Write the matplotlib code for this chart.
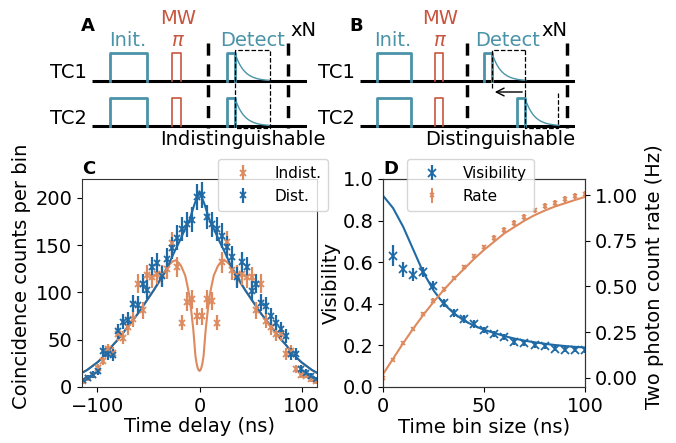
import numpy as np
import matplotlib.pyplot as plt

BLUE = '#1f6aa5'
ORANGE = '#dd8a5e'
TEAL = '#4a93a8'
RED = '#c8553f'

# ---- panel C: coincidence histogram (bins ~4.85 ns, centred on +-2.4 ns)
bin_step = 4.85
delay = (np.arange(-24, 24) + 0.5) * bin_step

dist_counts = [7, 10, 13, 17, 38, 35, 34, 59, 69, 71, 88, 87, 109, 103, 127, 131, 117, 135, 147, 158, 167, 172, 177, 201,
               203, 180, 172, 167, 160, 148, 137, 116, 132, 127, 102, 109, 89, 86, 75, 68, 61, 54, 35, 35, 19, 15, 12, 8]
dist_err = [3, 3, 4, 4, 6, 6, 6, 8, 8, 8, 9, 9, 10, 10, 11, 11, 11, 12, 12, 13, 13, 13, 13, 14,
            14, 13, 13, 13, 13, 12, 12, 11, 11, 11, 10, 10, 9, 9, 9, 8, 8, 7, 6, 6, 4, 4, 3, 3]

indist_counts = [6, 9, 13, 20, 28, 40, 36, 56, 52, 63, 72, 109, 81, 118, 116, 120, 118, 125, 152, 127, 68, 90, 93, 75,
                 75, 93, 91, 68, 132, 153, 124, 118, 119, 116, 116, 81, 109, 70, 63, 56, 56, 35, 38, 19, 13, 12, 8, 6]
indist_err = [3, 3, 4, 4, 5, 6, 6, 7, 7, 8, 9, 10, 9, 11, 11, 11, 11, 11, 12, 11, 8, 10, 10, 9,
              9, 10, 10, 8, 11, 12, 11, 11, 11, 11, 11, 9, 10, 8, 8, 7, 7, 6, 6, 4, 4, 3, 3, 3]

fit_delay = [-115, -110, -105, -100, -95, -90, -85, -80, -75, -70, -65, -60, -55, -50, -45, -40, -35, -30, -25,
             -20, -15, -10, -5, 0, 5, 10, 15, 20, 25, 30, 35, 40, 45, 50, 55, 60, 65, 70, 75, 80, 85, 90, 95, 100,
             105, 110, 115]
dist_fit = [15, 18, 22, 26, 31, 37, 44, 50, 57, 64, 71, 78, 86, 94, 102, 111, 120, 130, 142,
            153, 165, 176, 193, 207, 193, 176, 165, 153, 142, 130, 120, 111, 102, 94, 86, 78, 71, 64, 57, 50, 44, 37,
            31, 26, 22, 18, 15]

indist_fit_delay = [-115, -110, -105, -100, -95, -90, -85, -80, -75, -70, -65, -60, -55, -50, -45, -40, -35, -32,
                    -29, -26, -23, -20, -18, -16, -14, -12, -10, -8, -6, -4, -3, -2, -1, 0, 1, 2, 3, 4, 6, 8, 10,
                    12, 14, 16, 18, 20, 23, 26, 29, 32, 35, 40, 45, 50, 55, 60, 65, 70, 75, 80, 85, 90, 95, 100, 105,
                    110, 115]
indist_fit = [15, 18, 22, 26, 31, 37, 44, 50, 57, 64, 71, 78, 86, 94, 102, 110, 119, 125,
              130, 133, 134, 131, 128, 123, 118, 108, 97, 80, 60, 33, 26, 21, 18, 17, 18, 21, 26, 33, 60, 80, 97,
              108, 118, 123, 128, 131, 134, 133, 130, 125, 119, 110, 102, 94, 86, 78, 71, 64, 57, 50, 44, 37, 31, 26,
              22, 18, 15]

# ---- panel D: visibility and two-photon rate vs time bin size
vis_bin = [5, 10, 15, 20, 25, 30, 35, 40, 45, 50, 55, 60, 65, 70, 75, 80, 85, 90, 95, 100]
visibility = [0.632, 0.565, 0.54, 0.552, 0.487, 0.403, 0.355, 0.326, 0.303, 0.274, 0.255, 0.242, 0.218, 0.21,
              0.2, 0.198, 0.185, 0.18, 0.18, 0.177]
vis_err = [0.05, 0.035, 0.03, 0.025, 0.022, 0.02, 0.02, 0.018, 0.017, 0.016, 0.015, 0.015, 0.015, 0.014,
           0.014, 0.013, 0.013, 0.013, 0.012, 0.012]

rate_bin = [0, 5, 10, 15, 20, 25, 30, 35, 40, 45, 50, 55, 60, 65, 70, 75, 80, 85, 90, 95, 100]
rate = [0.0, 0.10, 0.192, 0.267, 0.348, 0.423, 0.485, 0.546, 0.604, 0.665, 0.714, 0.766, 0.808, 0.848, 0.879,
        0.916, 0.94, 0.958, 0.976, 0.995, 1.004]
rate_err = [0.005, 0.008, 0.01, 0.01, 0.012, 0.012, 0.013, 0.013, 0.014, 0.014, 0.015, 0.015, 0.015, 0.016,
            0.016, 0.016, 0.017, 0.017, 0.017, 0.018, 0.018]

fit_bin = [0, 5, 10, 15, 20, 25, 30, 35, 40, 45, 50, 55, 60, 65, 70, 75, 80, 85, 90, 95, 100]
vis_fit = [0.92, 0.86, 0.77, 0.66, 0.55, 0.465, 0.40, 0.355, 0.32, 0.295, 0.275, 0.26, 0.245, 0.233, 0.223,
           0.215, 0.208, 0.202, 0.197, 0.193, 0.19]
rate_fit = [0.02, 0.105, 0.19, 0.27, 0.345, 0.415, 0.48, 0.54, 0.595, 0.65, 0.70, 0.745, 0.79, 0.825, 0.86,
            0.89, 0.915, 0.937, 0.955, 0.973, 0.99]

# ---- pulse schematics (panel pixel units: x from line start, y downwards)
rows = [81, 126]
pulse_h = 28
line_len = 215
sched_a = {'init': (18, 55), 'mw': (80, 89), 'sep': (116, 196), 'det': [(135, 143), (135, 143)]}
sched_b = {'init': (17, 51), 'mw': (75, 83), 'sep': (107, 207), 'det': [(124, 132), (157, 165)]}
decay_len = 34

plt.rcParams['font.family'] = 'DejaVu Sans'
plt.rcParams['font.size'] = 14
plt.rcParams['axes.edgecolor'] = '#333333'

fig = plt.figure(figsize=(6.76, 4.43), dpi=100)
W, H = 676, 443


def draw_sequence(ax, sched):
    for base in rows:
        top = base - pulse_h
        ax.plot([0, line_len], [base, base], color='black', lw=2.2, solid_capstyle='butt')
        x0, x1 = sched['init']
        ax.plot([x0, x0, x1, x1], [base, top, top, base], color=TEAL, lw=2)
        m0, m1 = sched['mw']
        ax.plot([m0, m0, m1, m1], [base, top, top, base], color=RED, lw=1.2)
    for s in sched['sep']:
        ax.plot([s, s], [43, 128], color='black', lw=2.5, ls=(0, (3.5, 2.5)))
    for base, (d0, d1) in zip(rows, sched['det']):
        top = base - pulse_h
        ax.plot([d0, d0, d1, d1], [base, top, top, base], color=TEAL, lw=2)
        xd = np.linspace(d1, d1 + decay_len, 60)
        ax.plot(xd, base - pulse_h * np.exp(-(xd - d1) / 9.0), color=TEAL, lw=1)
    ax.set_xlim(0, line_len)
    ax.set_ylim(150, 0)
    ax.axis('off')


def add_texts(ax, label, init_x, mw_x, det_x, xn_x, xn_ha, bottom_text, bottom_x):
    ax.text(-4, 26, label, fontsize=13, fontweight='bold', ha='center', va='center')
    ax.text(-5, 73, 'TC1', fontsize=14, ha='right', va='center')
    ax.text(-5, 118, 'TC2', fontsize=14, ha='right', va='center')
    ax.text(init_x, 40, 'Init.', color=TEAL, fontsize=14, ha='center', va='center')
    ax.text(mw_x, 19, 'MW', color=RED, fontsize=14, ha='center', va='center')
    ax.text(mw_x, 40, r'$\pi$', color=RED, fontsize=14, ha='center', va='center')
    ax.text(det_x, 40, 'Detect', color=TEAL, fontsize=14, ha='center', va='center')
    ax.text(xn_x, 30, 'xN', fontsize=14, ha=xn_ha, va='center')
    ax.text(bottom_x, 139, bottom_text, fontsize=14, ha='center', va='center')


ax_a = fig.add_axes([92 / W, 1 - 150 / H, 215 / W, 150 / H])
draw_sequence(ax_a, sched_a)
ax_a.plot([143, 143, 178, 178, 143], [50, 128, 128, 50, 50], color='black', lw=0.9, ls='--')
add_texts(ax_a, 'A', 36, 86, 161, 198, 'left', 'Indistinguishable', 151)

ax_b = fig.add_axes([360 / W, 1 - 150 / H, 215 / W, 150 / H])
draw_sequence(ax_b, sched_b)
ax_b.plot([132, 132, 165], [88, 50, 50], color='black', lw=0.9, ls='--')
ax_b.plot([165, 165], [50, 92], color='black', lw=0.9, ls='--')
ax_b.plot([165, 165, 198, 198], [92, 128, 128, 92], color='black', lw=0.9, ls='--')
ax_b.annotate('', xy=(132, 92), xytext=(165, 92),
              arrowprops=dict(arrowstyle='->', color='black', lw=1))
add_texts(ax_b, 'B', 33, 80, 148, 207, 'right', 'Distinguishable', 140)

leg_kw = dict(fontsize=11, handlelength=2.4, borderpad=0.45)

# ---- panel C
ax_c = fig.add_axes([82 / W, 1 - 387 / H, 235 / W, 208 / H])
ax_c.plot(indist_fit_delay, indist_fit, color=ORANGE, lw=1.5)
ax_c.plot(fit_delay, dist_fit, color=BLUE, lw=1.5)
ax_c.errorbar(delay, indist_counts, yerr=indist_err, fmt='x', color=ORANGE, ms=5, mew=1.3, elinewidth=1.6,
              label='Indist.')
ax_c.errorbar(delay, dist_counts, yerr=dist_err, fmt='x', color=BLUE, ms=5, mew=1.3, elinewidth=1.6,
              label='Dist.')
ax_c.set_xlim(-115, 115)
ax_c.set_ylim(0, 220)
ax_c.set_xticks([-100, 0, 100])
ax_c.set_yticks([0, 50, 100, 150, 200])
ax_c.set_xlabel('Time delay (ns)', labelpad=1)
ax_c.set_ylabel('Coincidence counts per bin')
ax_c.yaxis.set_label_coords(-0.215, 0.53)
ax_c.legend(loc='upper right', bbox_to_anchor=(1.079, 1.132), **leg_kw)
ax_c.text(0.0, 1.005, 'C', transform=ax_c.transAxes, fontsize=13, fontweight='bold', va='bottom')

# ---- panel D
ax_d = fig.add_axes([383 / W, 1 - 387 / H, 202 / W, 208 / H])
ax_r = ax_d.twinx()
ax_d.plot(fit_bin, vis_fit, color=BLUE, lw=1.5)
h_vis = ax_d.errorbar(vis_bin, visibility, yerr=vis_err, fmt='x', color=BLUE, ms=6, mew=1.3, elinewidth=1.6)
ax_r.plot(fit_bin, rate_fit, color=ORANGE, lw=1.5)
h_rate = ax_r.errorbar(rate_bin, rate, yerr=rate_err, fmt='x', color=ORANGE, ms=3.5, mew=1.2, elinewidth=1.4)
ax_d.set_xlim(0, 100)
ax_d.set_ylim(0, 1)
ax_r.set_ylim(-0.05, 1.088)
ax_d.set_xticks([0, 50, 100])
ax_d.set_yticks([0, 0.2, 0.4, 0.6, 0.8, 1.0])
ax_r.set_yticks([0, 0.25, 0.5, 0.75, 1.0])
ax_d.set_xlabel('Time bin size (ns)', labelpad=1)
ax_d.set_ylabel('Visibility', labelpad=1)
ax_r.set_ylabel('Two photon count rate (Hz)')
ax_r.yaxis.set_label_coords(1.295, 0.53)
ax_r.legend([h_vis, h_rate], ['Visibility', 'Rate'], loc='upper left', bbox_to_anchor=(0.082, 1.132), **leg_kw)
ax_d.text(0.0, 1.005, 'D', transform=ax_d.transAxes, fontsize=13, fontweight='bold', va='bottom')

fig.savefig('out.png', dpi=100)
